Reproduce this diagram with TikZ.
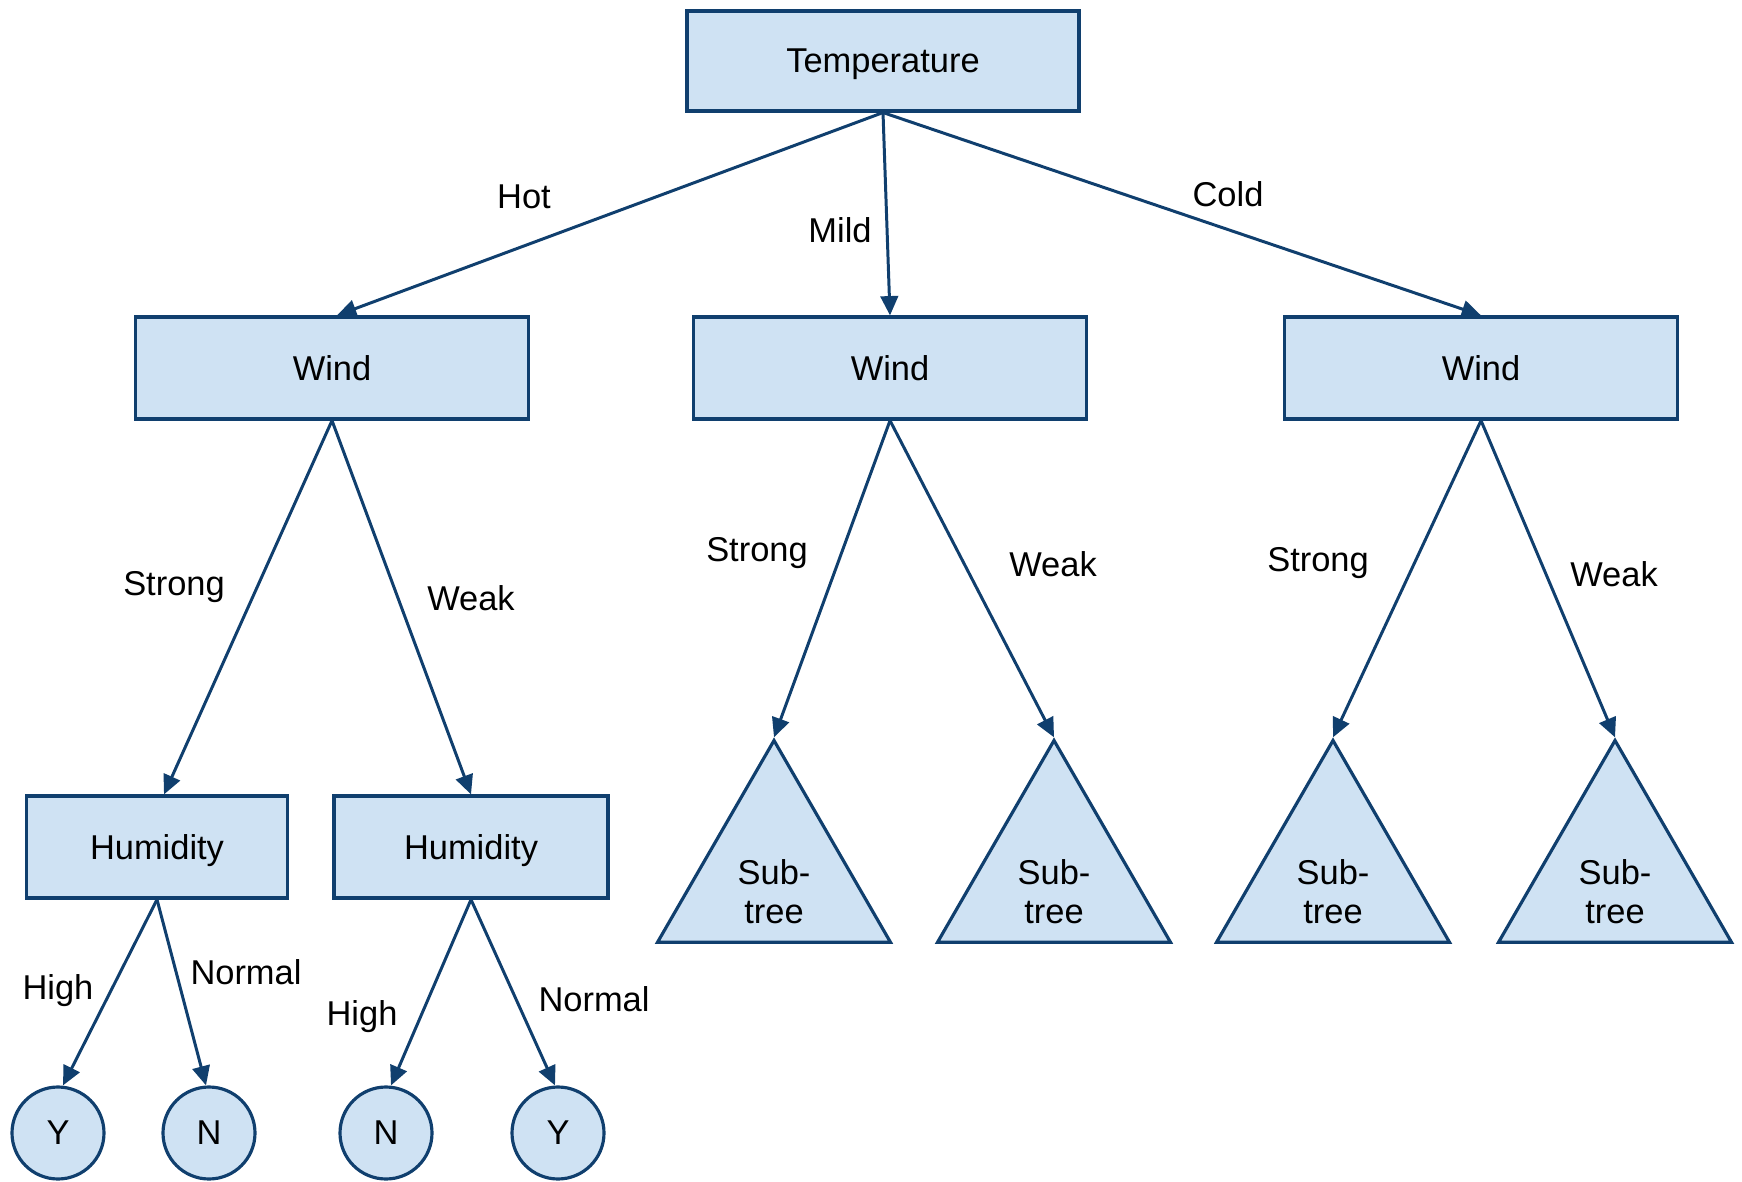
\documentclass[tikz,border=0pt]{standalone}
\usepackage{fontspec}
\setmainfont{Liberation Sans}
\usetikzlibrary{arrows.meta,shapes.geometric}
\definecolor{treeline}{RGB}{16,63,110}
\definecolor{treefill}{RGB}{207,226,243}
\tikzstyle{none}=[font=\fontsize{9.8}{11}\selectfont]
\tikzstyle{box}=[draw=treeline, fill=treefill, line width=0.9pt, text depth=0pt, font=\fontsize{9.8}{11}\selectfont]
\tikzstyle{leaf}=[circle, draw=treeline, fill=treefill, line width=0.9pt, minimum size=0.92cm, inner sep=0pt, font=\fontsize{9.8}{11}\selectfont]
\tikzstyle{subtree}=[regular polygon, regular polygon sides=3, draw=treeline, fill=treefill, line width=0.9pt, minimum size=2.69cm, inner sep=0pt]
\tikzstyle{edge}=[draw=treeline, line width=0.85pt, -{Triangle[length=5.5pt,width=5pt]}]

\begin{document}
\begin{tikzpicture}
                \useasboundingbox (0, 0) rectangle (17.42, 11.81);
                \node [style=box, minimum width=3.92cm, minimum height=1.00cm] (0) at (8.83, 11.20) {Temperature};
                \node [style=box, minimum width=3.93cm, minimum height=1.02cm] (1) at (3.32, 8.13) {Wind};
                \node [style=box, minimum width=3.93cm, minimum height=1.02cm] (2) at (8.90, 8.13) {Wind};
                \node [style=box, minimum width=3.93cm, minimum height=1.02cm] (3) at (14.81, 8.13) {Wind};
                \node [style=box, minimum width=2.61cm, minimum height=1.02cm] (4) at (1.57, 3.34) {Humidity};
                \node [style=box, minimum width=2.74cm, minimum height=1.02cm] (5) at (4.71, 3.34) {Humidity};
                \node [style=leaf] (6) at (0.58, 0.48) {Y};
                \node [style=leaf] (7) at (2.09, 0.48) {N};
                \node [style=leaf] (8) at (3.86, 0.48) {N};
                \node [style=leaf] (9) at (5.58, 0.48) {Y};
                \node [style=subtree] (10) at (7.74, 3.06) {};
                \node [style=subtree] (11) at (10.54, 3.06) {};
                \node [style=subtree] (12) at (13.33, 3.06) {};
                \node [style=subtree] (13) at (16.15, 3.06) {};
                \node [style=none, align=center] (14) at (7.74, 2.89) {Sub-\\tree};
                \node [style=none, align=center] (15) at (10.54, 2.89) {Sub-\\tree};
                \node [style=none, align=center] (16) at (13.33, 2.89) {Sub-\\tree};
                \node [style=none, align=center] (17) at (16.15, 2.89) {Sub-\\tree};
                \node [style=none] (18) at (5.24, 9.84) {Hot};
                \node [style=none] (19) at (8.40, 9.51) {Mild};
                \node [style=none] (20) at (12.28, 9.87) {Cold};
                \node [style=none] (21) at (1.74, 5.94) {Strong};
                \node [style=none] (22) at (4.71, 5.83) {Weak};
                \node [style=none] (23) at (7.57, 6.28) {Strong};
                \node [style=none] (24) at (10.53, 6.17) {Weak};
                \node [style=none] (25) at (13.18, 6.18) {Strong};
                \node [style=none] (26) at (16.14, 6.07) {Weak};
                \node [style=none] (27) at (0.58, 1.90) {High};
                \node [style=none] (28) at (2.46, 2.09) {Normal};
                \node [style=none] (29) at (3.62, 1.64) {High};
                \node [style=none] (30) at (5.94, 1.82) {Normal};
                \draw [style=edge] (0.south) to ([xshift=0.5mm]1.north);
                \draw [style=edge] (0.south) to (2.north);
                \draw [style=edge] (0.south) to (3.north);
                \draw [style=edge] (1.south) to ([xshift=0.7mm]4.north);
                \draw [style=edge] (1.south) to (5.north);
                \draw [style=edge] (2.south) to (10.corner 1);
                \draw [style=edge] (2.south) to (11.corner 1);
                \draw [style=edge] (3.south) to (12.corner 1);
                \draw [style=edge] (3.south) to (13.corner 1);
                \draw [style=edge] (4.south) to ([xshift=0.5mm]6.north);
                \draw [style=edge] (4.south) to ([xshift=-0.3mm]7.north);
                \draw [style=edge] (5.south) to ([xshift=0.5mm]8.north);
                \draw [style=edge] (5.south) to ([xshift=-0.3mm]9.north);
    \end{tikzpicture}
\end{document}
